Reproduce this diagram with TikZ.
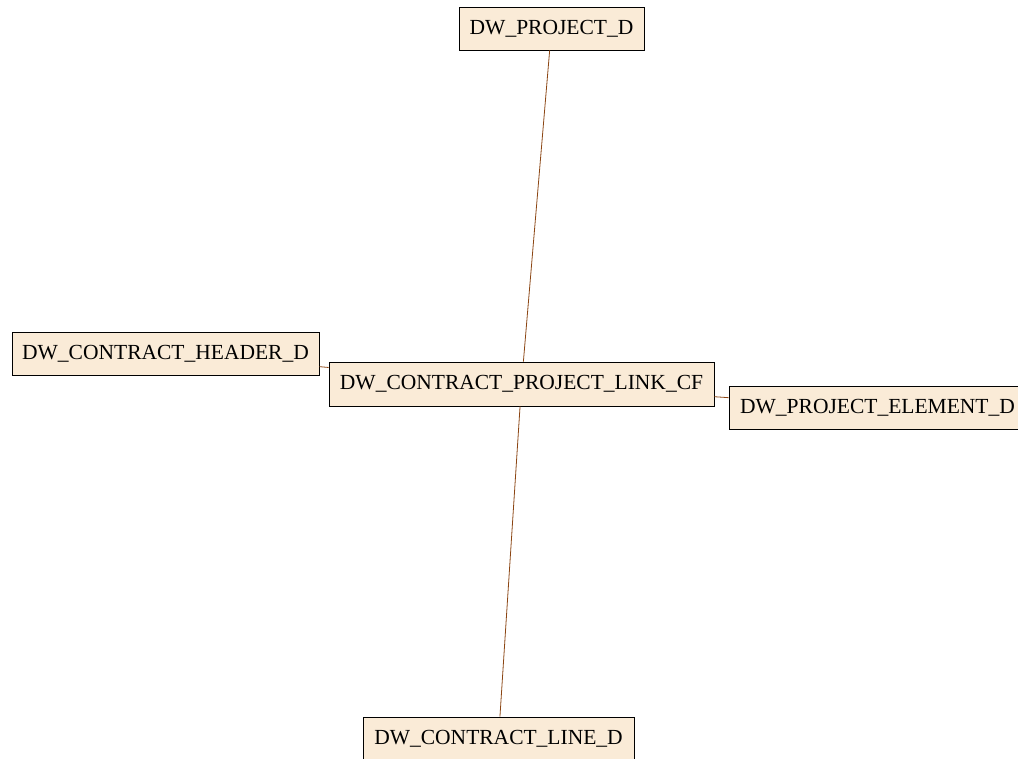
\documentclass[tikz,border=0pt]{standalone}
\usepackage{fontspec}
\setmainfont{Liberation Serif}
\definecolor{boxfill}{HTML}{FAEBD7}
\definecolor{edgecol}{HTML}{8B4513}
\begin{document}
\begin{tikzpicture}[x=1pt,y=-1pt,
  tbl/.style={draw=black, line width=0.9pt, fill=boxfill, inner sep=0pt,
    minimum height=43pt, font=\fontsize{21.5}{24}\selectfont},
  rel/.style={draw=edgecol, line width=0.8pt}]
\useasboundingbox (0,0) rectangle (1018,759);
\node[tbl, minimum width=185pt] (proj) at (551.5,28.5) {DW\_PROJECT\_D};
\node[tbl, minimum width=307pt] (head) at (165.5,353.5) {DW\_CONTRACT\_HEADER\_D};
\node[tbl, minimum width=385pt, minimum height=44pt] (link) at (521.5,384) {DW\_CONTRACT\_PROJECT\_LINK\_CF};
\node[tbl, minimum width=297pt] (elem) at (877.5,407.5) {DW\_PROJECT\_ELEMENT\_D};
\node[tbl, minimum width=271pt, minimum height=44pt] (line) at (498.5,739) {DW\_CONTRACT\_LINE\_D};
\draw[rel] (proj) -- (link);
\draw[rel] (link) -- (line);
\draw[rel] (head) -- (link);
\draw[rel] (link) -- (elem);
\end{tikzpicture}
\end{document}
